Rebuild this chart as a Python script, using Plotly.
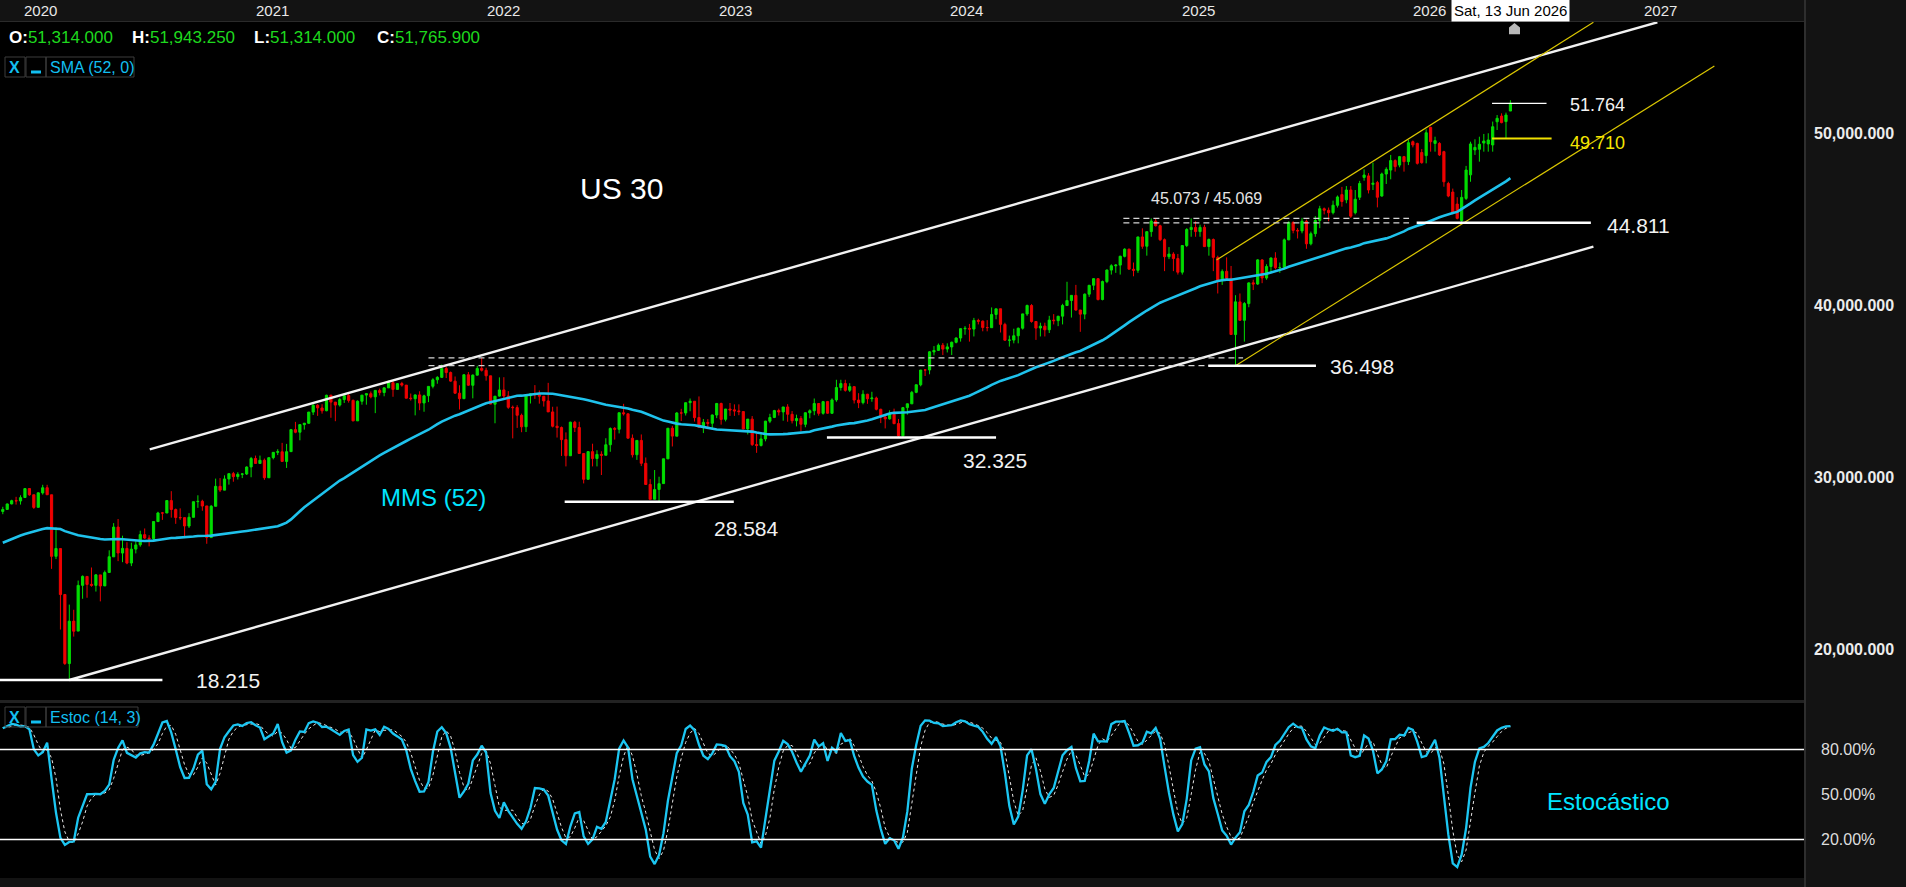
import pandas as pd
import numpy as np
import plotly.graph_objects as go

# ---------------- DATA ----------------
# Warm-up weekly closes (weeks of 2018-12-17 .. 2019-12-02) used only for SMA(52)
pre_close = [22445, 23062, 23433, 23996, 24706, 24737, 25064, 25106, 25883, 26031, 26026, 25450, 25849,
             25502, 25929, 26425, 26412, 26559, 26543, 26505, 25942, 25764, 25586, 24815, 25984, 26090,
             26719, 26600, 26922, 27332, 27154, 27192, 26485, 26287, 25886, 25629, 26403, 26797, 27220,
             26935, 26820, 26573, 26817, 26770, 26958, 27347, 27681, 28005, 27876, 28051, 28015]
# Warm-up highs / lows of the last 17 of those weeks (for the stochastic)
pre_high = [26440, 26280, 26470, 26860, 27300, 27220, 27100, 27050, 26960, 27120, 27000, 27350, 27700,
            28040, 28030, 28175, 28100]
pre_low = [25340, 25570, 25600, 25980, 26800, 26900, 26700, 25740, 26030, 26700, 26700, 26870, 27330,
           27610, 27750, 27870, 27325]

first_week = "2019-12-09"   # weekly bars, one per week

open_ = [
    28020, 28140, 28460, 28650,
    28630, 28830, 29350, 28990, 28260, 29100, 29400, 28990, 25410, 25860, 23190, 19170, 21640, 21060, 23720, 24240, 23780, 23720, 24330, 23690, 24470, 25380, 27110, 25600, 25870, 25020, 25830, 26080, 26670, 26470, 26430, 27430, 27930, 27930, 28650, 28130, 27670, 27660, 27170, 27680, 28590, 28610, 28340, 26500, 28320, 29480, 29260, 29910, 30220, 30050, 30180, 30200,
    30610, 31100, 30810, 31000, 29980, 31150, 31460, 31490, 30930, 31500, 32780, 32630, 33070, 33150, 33800, 34200, 34040, 33880, 34780, 34380, 34210, 34530, 34760, 34480, 33290, 34430, 34790, 34870, 34690, 35060, 34940, 35210, 35510, 35120, 35460, 35370, 34610, 34580, 34800, 34330, 34750, 35300, 35680, 35820, 36330, 36100, 35600, 34900, 34580, 35970, 35360, 35950,
    36340, 36230, 35910, 34260, 34730, 35090, 34740, 34080, 34060, 33610, 32950, 34750, 34860, 34820, 34720, 34450, 33810, 32980, 32900, 32200, 31260, 33210, 32900, 31390, 29890, 31500, 31100, 31340, 31290, 31900, 32850, 32800, 33760, 33700, 32280, 31320, 32150, 30820, 29590, 28730, 29300, 29640, 31080, 32860, 32400, 33750, 33750, 34350, 34430, 33480, 32920, 33200,
    33150, 33630, 34300, 33380, 33980, 33930, 33870, 33830, 32820, 33390, 31910, 31860, 32240, 33270, 33490, 33890, 33810, 34100, 33670, 33300, 33430, 33090, 33760, 33880, 34300, 33730, 34410, 33730, 34510, 35230, 35460, 35070, 35280, 34500, 34350, 34840, 34580, 34620, 33960, 33510, 33410, 33670, 33130, 32420, 34060, 34280, 34950, 35390, 36250, 36250, 37300, 37390,
    37690, 37470, 37590, 37860, 38110, 38650, 38670, 38630, 39130, 39090, 38720, 38710, 39480, 39810, 38900, 37980, 37990, 38240, 38680, 39510, 40000, 39070, 38690, 38800, 38590, 39150, 39120, 39380, 40000, 40290, 40590, 39740, 39500, 40660, 41180, 41560, 40350, 41390, 42060, 42310, 42350, 42860, 43280, 42110, 42050, 43990, 43450, 44300, 44910, 44640, 43830, 42840, 42990,
    42730, 41940, 43490, 44420, 44540, 44300, 44550, 43430, 43840, 42800, 41490, 41990, 41580, 38310, 40210, 39140, 40110, 41320, 41250, 42650, 41600, 42270, 42760, 42200, 42210, 43820, 44830, 44370, 44340, 44900, 43590, 44180, 44950, 45630, 45540, 45400, 45830,
    46450, 46150, 46720, 45400, 46300, 47450, 47540, 47050, 47150, 46370, 47650, 47880, 48430, 48170, 48660, 48370, 49530, 49430, 48900, 48720, 50360, 49430, 49430, 48950, 47100, 46600, 45900, 44940, 46230, 47600, 49050, 49090, 49450, 49400, 49340, 50690, 51020, 50700, 51314.0,
]
high = [
    28290, 28480, 28700, 28870,
    28960, 29370, 29370, 28990, 29130, 29570, 29570, 28990, 27100, 25860, 23190, 22600, 22300, 24000, 24300, 24240, 24760, 24370, 24330, 24580, 25760, 27340, 27580, 26610, 26230, 26200, 26290, 26900, 27030, 26640, 27440, 28000, 27990, 28660, 29200, 28190, 28200, 27660, 27920, 28600, 28960, 28700, 28340, 28390, 29930, 29960, 30120, 30220, 30320, 30300, 30250, 30640,
    31190, 31270, 31270, 31100, 31170, 31470, 31640, 32010, 31950, 32820, 33230, 33070, 33170, 33810, 34260, 34260, 34260, 34810, 34810, 34390, 34630, 34850, 34850, 34530, 34480, 34790, 34890, 35000, 35070, 35170, 35240, 35630, 35630, 35490, 35560, 35370, 34880, 34830, 35010, 34810, 35300, 35770, 35890, 36570, 36440, 36160, 35870, 35360, 36000, 36130, 35990, 36490,
    36950, 36380, 35910, 34610, 35820, 35830, 35020, 34180, 34200, 33710, 34780, 34910, 35370, 35060, 34740, 35500, 34110, 34120, 32960, 32620, 33240, 33290, 33240, 31390, 31500, 31960, 31580, 31520, 32280, 32910, 32930, 33770, 34280, 33700, 32500, 32160, 32500, 31160, 29900, 30430, 30040, 31090, 32860, 33000, 33800, 33990, 34360, 34590, 34430, 34710, 33400, 33390,
    33660, 34330, 34350, 33980, 34330, 34250, 34250, 33830, 33400, 33570, 32550, 32570, 33290, 33700, 33930, 34000, 34100, 34260, 33860, 33650, 33570, 33790, 33960, 34590, 34300, 34450, 34450, 34600, 35680, 35680, 35680, 35480, 35310, 34900, 35070, 34860, 34980, 34700, 34000, 33600, 33900, 34000, 33400, 34100, 34300, 35030, 35400, 36250, 36300, 37350, 37640, 37790,
    37820, 37800, 37900, 38150, 38680, 38800, 38930, 39280, 39230, 39130, 39150, 39890, 39810, 39810, 39000, 38250, 38650, 38720, 39520, 40050, 40080, 39070, 39000, 39000, 39400, 39500, 39400, 40100, 41380, 40600, 41200, 39740, 40700, 41200, 41590, 41600, 41450, 42100, 42400, 42400, 42900, 43330, 43300, 42500, 44000, 44490, 44300, 45070, 45073, 44700, 43900, 43400, 43100,
    43000, 43500, 44500, 45069, 44900, 44700, 44700, 43900, 43900, 42900, 42100, 42800, 42300, 40600, 40700, 40200, 41350, 41500, 42700, 42700, 42400, 42800, 43100, 42500, 43900, 44900, 44900, 44500, 45100, 45000, 44300, 45200, 45800, 45700, 45700, 46100, 46400,
    46900, 46950, 46950, 46720, 47250, 47920, 47700, 48310, 47250, 47730, 48040, 48760, 48500, 48700, 48700, 49630, 49600, 49470, 49100, 50250, 50404, 49820, 49500, 49000, 47200, 46800, 46300, 46720, 48120, 49530, 49670, 49820, 49980, 50020, 50700, 51080, 51180, 51220, 51943.25,
]
low = [
    27860, 28130, 28430, 28420,
    28420, 28800, 28930, 28170, 28260, 29000, 28990, 24680, 25250, 21150, 19090, 18215, 20740, 21060, 22940, 23000, 23640, 23360, 22790, 23680, 24460, 25380, 25130, 25070, 24950, 24840, 25580, 25970, 26420, 25990, 26290, 27430, 27530, 27930, 27660, 27300, 27530, 26540, 27060, 27680, 28230, 28060, 26140, 26500, 28320, 29150, 29260, 29580, 29750, 29880, 29960, 30140,
    30010, 30800, 30780, 29860, 29980, 31050, 31300, 30930, 30550, 31500, 32570, 32160, 32780, 33120, 33630, 33580, 33710, 33850, 33470, 33270, 34120, 34330, 34350, 33270, 33290, 34230, 34230, 34600, 33740, 34770, 34720, 35210, 34690, 35120, 35280, 34600, 34470, 33610, 33910, 33820, 34380, 35180, 35450, 35780, 35780, 35560, 34870, 33950, 34580, 35330, 34600, 35930,
    36160, 35630, 34260, 33150, 34700, 34600, 33990, 32270, 32880, 32630, 32640, 34300, 34570, 34290, 34120, 33810, 32910, 32320, 31250, 30640, 31250, 32640, 31390, 29650, 29890, 30640, 30640, 30140, 31290, 31490, 32200, 32560, 33600, 32260, 31160, 31020, 30660, 29570, 28720, 28730, 28584, 29640, 31080, 31800, 32400, 33280, 33600, 33850, 33250, 32900, 32580, 32810,
    32810, 33450, 33070, 33260, 33580, 33580, 33620, 32800, 32500, 31830, 31430, 31800, 32100, 33160, 33450, 33600, 33300, 33240, 33140, 32970, 32670, 32920, 33440, 33620, 33590, 33650, 33700, 33700, 34400, 35050, 34990, 34970, 34300, 34030, 34250, 34280, 34400, 33900, 33160, 32850, 33360, 33100, 32325, 32330, 33650, 34280, 34900, 35300, 35900, 36000, 37100, 37390,
    37120, 37270, 37120, 37800, 37900, 38300, 37900, 38200, 38900, 38500, 38500, 38700, 39200, 38430, 37950, 37610, 37800, 37800, 38600, 39400, 39000, 38000, 38200, 38200, 38400, 38900, 38800, 38900, 40000, 39300, 39700, 38470, 39200, 40500, 40900, 40300, 40300, 41300, 41800, 41900, 41800, 42800, 42100, 41700, 41900, 43300, 42900, 44000, 44600, 43750, 42000, 42700, 42000,
    41800, 41800, 43400, 44000, 44000, 44000, 43400, 42900, 42000, 40700, 41200, 41500, 38300, 36498, 39100, 37900, 39900, 40900, 41200, 41300, 41500, 41900, 42100, 41900, 42100, 43800, 44200, 43900, 44200, 43300, 43500, 44000, 44500, 45300, 44900, 45300, 45700,
    45750, 45950, 45100, 45300, 46140, 47260, 46520, 46720, 45710, 46330, 47070, 47340, 47790, 48040, 47790, 48170, 49200, 48200, 48250, 48270, 48950, 48950, 48700, 46910, 46300, 45300, 45010, 44811, 46140, 47200, 48760, 48370, 48950, 48950, 48950, 50210, 50600, 49710, 51314.0,
]
close = [
    28135, 28455, 28645, 28634,
    28824, 29348, 28990, 28256, 29103, 29398, 28992, 25409, 25865, 23186, 19174, 21637, 21053, 23719, 24242, 23775, 23724, 24331, 23685, 24465, 25383, 27111, 25605, 25871, 25016, 25827, 26075, 26672, 26470, 26428, 27433, 27931, 27930, 28654, 28133, 27666, 27657, 27174, 27683, 28587, 28606, 28336, 26502, 28323, 29480, 29263, 29910, 30218, 30046, 30179, 30200, 30606,
    31098, 30814, 30997, 29983, 31148, 31458, 31494, 30932, 31496, 32779, 32628, 33072, 33153, 33801, 34200, 34043, 33875, 34778, 34382, 34208, 34529, 34756, 34480, 33290, 34433, 34786, 34870, 34687, 35062, 34935, 35209, 35515, 35120, 35456, 35369, 34608, 34584, 34798, 34326, 34746, 35295, 35677, 35820, 36328, 36100, 35602, 34899, 34580, 35971, 35365, 35951, 36338,
    36231, 35912, 34265, 34725, 35089, 34739, 34079, 34059, 33615, 32945, 34755, 34862, 34818, 34721, 34451, 33811, 32977, 32899, 32197, 31262, 33213, 32900, 31393, 29889, 31501, 31097, 31338, 31288, 31899, 32845, 32803, 33761, 33706, 32283, 31318, 32152, 30822, 29590, 28726, 29297, 29635, 31083, 32861, 32403, 33748, 33746, 34347, 34430, 33477, 32920, 33204, 33147,
    33631, 34303, 33375, 33978, 33926, 33870, 33827, 32817, 33391, 31910, 31862, 32238, 33274, 33485, 33886, 33809, 34098, 33674, 33300, 33427, 33093, 33762, 33877, 34299, 33727, 34408, 33734, 34509, 35228, 35459, 35066, 35281, 34501, 34346, 34838, 34577, 34618, 33964, 33508, 33407, 33670, 33127, 32418, 34061, 34283, 34947, 35390, 36245, 36248, 37306, 37385, 37690,
    37466, 37593, 37863, 38109, 38654, 38671, 38628, 39131, 39087, 38723, 38715, 39475, 39807, 38904, 37983, 37986, 38240, 38676, 39513, 40004, 39070, 38686, 38799, 38589, 39150, 39119, 39376, 40001, 40288, 40590, 39737, 39498, 40660, 41175, 41563, 40345, 41394, 42063, 42313, 42352, 42864, 43276, 42114, 42052, 43989, 43445, 44297, 44911, 44642, 43828, 42840, 42992, 42732,
    41938, 43488, 44424, 44545, 44303, 44546, 43428, 43841, 42802, 41488, 41985, 41584, 38315, 40213, 39142, 40114, 41317, 41249, 42655, 41603, 42270, 42763, 42198, 42207, 43819, 44829, 44372, 44342, 44902, 43589, 44176, 44946, 45631, 45545, 45401, 45834, 46315,
    46050, 46720, 45200, 46180, 47100, 47590, 46720, 47110, 46300, 47650, 47920, 48430, 48080, 48660, 48370, 49470, 49340, 48270, 48310, 50050, 49530, 49590, 48760, 47200, 46370, 45400, 45070, 46290, 47880, 49400, 49200, 49380, 49570, 49630, 50400, 50890, 50640, 51080, 51765.9,
]

# Key levels marked on the chart (price, from, to)
support_levels = [18215, 28584, 32325, 36498, 44811]
support_from = ["2019-12-01", "2022-05-14", "2023-07-02", "2025-02-23", "2026-01-18"]
support_to = ["2020-08-17", "2023-02-05", "2024-03-25", "2025-08-12", "2026-10-20"]
support_labels = ["18.215", "28.584", "32.325", "36.498", "44.811"]

last_close_level = 51764
last_low_level = 49710
levels_from = "2026-05-17"
last_close_to = "2026-08-11"
last_low_to = "2026-08-19"

dashed_levels = [36952, 36498, 45073, 44811]
dashed_from = ["2021-10-11", "2021-10-11", "2024-10-12", "2024-10-12"]
dashed_to = ["2025-04-19", "2025-05-05", "2026-01-06", "2026-01-06"]

# trend channels: (date0, price0, date1, price1)
white_channel = [("2020-07-28", 31636, "2027-02-02", 56475),
                 ("2020-03-23", 18215, "2026-10-24", 43421)]
yellow_channel = [("2025-03-08", 42648, "2026-10-24", 56475),
                  ("2025-04-07", 36498, "2027-05-03", 53933)]

price_ticks = [20000, 30000, 40000, 50000]
stoch_ticks = [20, 50, 80]
stoch_bands = [80, 20]
years = list(range(2020, 2028))
cursor_date = "2026-06-13"

# ---------------- INDICATORS ----------------
n = len(close)
assert len(open_) == n and len(high) == n and len(low) == n, (len(open_), len(high), len(low), n)
dates = pd.date_range(first_week, periods=n, freq="7D")

closes_all = pd.Series(pre_close + close, dtype=float)
sma52 = closes_all.rolling(52).mean().iloc[len(pre_close):].to_numpy()

nw = len(pre_high)
hh = pd.Series(pre_high + high, dtype=float).rolling(14).max()
ll = pd.Series(pre_low + low, dtype=float).rolling(14).min()
cc = pd.Series(pre_close[-nw:] + close, dtype=float)
raw_k = 100 * (cc - ll) / (hh - ll)
k_s = raw_k.rolling(3).mean()
d_s = k_s.rolling(3).mean()
k_line = k_s.iloc[nw:].to_numpy()
d_line = d_s.iloc[nw:].to_numpy()

# ---------------- LAYOUT GEOMETRY ----------------
W, H = 1906, 887
ML, MR, MT, MB = 0, 102, 22, 9
PW, PH = W - ML - MR, H - MT - MB
FONT = "Liberation Sans, Arial, sans-serif"


def fx(px):
    return px / PW


def fy(py):
    return 1 - (py - MT) / PH


day_px = 0.63346
x_start = pd.Timestamp("2019-12-04 14:24")
x_end = x_start + pd.Timedelta(days=PW / day_px)
pt_px = 0.01719
price_at = lambda py: 18215 + (680 - py) / pt_px
y_range = [price_at(700), price_at(22)]
stoch_range = [-5.67, 111]

GREEN = "#00dd00"
RED = "#ee0000"
SMA_C = "#1fc2ec"
K_C = "#1cc6f2"
CYAN_T = "#00e5ff"
LEG_C = "#12bff0"

fig = go.Figure()
fig.add_trace(go.Candlestick(
    x=dates, open=open_, high=high, low=low, close=close,
    increasing=dict(line=dict(color=GREEN, width=1), fillcolor=GREEN),
    decreasing=dict(line=dict(color=RED, width=1), fillcolor=RED),
    whiskerwidth=0, hoverinfo="skip", showlegend=False, xaxis="x", yaxis="y"))
fig.add_trace(go.Scatter(x=dates, y=sma52, mode="lines", line=dict(color=SMA_C, width=2.6),
                         hoverinfo="skip", showlegend=False, xaxis="x", yaxis="y"))
fig.add_trace(go.Scatter(x=dates, y=d_line, mode="lines", line=dict(color="#e6e6e6", width=1, dash="dot"),
                         hoverinfo="skip", showlegend=False, xaxis="x2", yaxis="y2"))
fig.add_trace(go.Scatter(x=dates, y=k_line, mode="lines", line=dict(color=K_C, width=2.3),
                         hoverinfo="skip", showlegend=False, xaxis="x2", yaxis="y2"))

shapes = []
# panel decorations
shapes.append(dict(type="rect", xref="paper", yref="paper", x0=0, x1=1, y0=fy(703), y1=fy(700),
                   fillcolor="#222222", line=dict(width=0), layer="below"))
shapes.append(dict(type="line", xref="paper", yref="paper", x0=fx(1805), x1=fx(1805), y0=fy(887), y1=fy(0),
                   line=dict(color="#2e2e2e", width=2)))
shapes.append(dict(type="line", xref="paper", yref="paper", x0=0, x1=1, y0=fy(21.5), y1=fy(21.5),
                   line=dict(color="#2a2a2a", width=1)))

for d0, p0, d1, p1 in white_channel:
    shapes.append(dict(type="line", xref="x", yref="y", x0=d0, y0=p0, x1=d1, y1=p1,
                       line=dict(color="#f2f2f2", width=2.4)))
for d0, p0, d1, p1 in yellow_channel:
    shapes.append(dict(type="line", xref="x", yref="y", x0=d0, y0=p0, x1=d1, y1=p1,
                       line=dict(color="#dcc800", width=1.2)))
for lv, a, b in zip(dashed_levels, dashed_from, dashed_to):
    shapes.append(dict(type="line", xref="x", yref="y", x0=a, x1=b, y0=lv, y1=lv,
                       line=dict(color="#d4d4d4", width=1.3, dash="6px,4px")))
for lv, a, b in zip(support_levels, support_from, support_to):
    shapes.append(dict(type="line", xref="x", yref="y", x0=a, x1=b, y0=lv, y1=lv,
                       line=dict(color="#ffffff", width=2.6)))
shapes.append(dict(type="line", xref="x", yref="y", x0=levels_from, x1=last_close_to,
                   y0=last_close_level, y1=last_close_level, line=dict(color="#ffffff", width=1.3)))
shapes.append(dict(type="line", xref="x", yref="y", x0=levels_from, x1=last_low_to,
                   y0=last_low_level, y1=last_low_level, line=dict(color="#f0e000", width=2)))
for b in stoch_bands:
    shapes.append(dict(type="line", xref="paper", yref="y2", x0=0, x1=1, y0=b, y1=b,
                       line=dict(color="#ffffff", width=1.5)))

# indicator legend boxes
for ytop in (57, 707):
    for x0, x1 in ((5, 25), (26, 46), (46, 134 if ytop == 57 else 138)):
        shapes.append(dict(type="rect", xref="paper", yref="paper", x0=fx(x0), x1=fx(x1),
                           y0=fy(ytop + 20), y1=fy(ytop), line=dict(color="#3c3c3c", width=1)))
    shapes.append(dict(type="rect", xref="paper", yref="paper", x0=fx(31), x1=fx(41),
                       y0=fy(ytop + 16.5), y1=fy(ytop + 13.5), fillcolor=LEG_C, line=dict(width=0)))

# cursor marker (small house shape under the date box)
mk = [(1509, 34.3), (1520, 34.3), (1520, 27.5), (1514.5, 23), (1509, 27.5)]
path = "M " + " L ".join(f"{fx(a):.6f},{fy(b):.6f}" for a, b in mk) + " Z"
shapes.append(dict(type="path", xref="paper", yref="paper", path=path,
                   fillcolor="#b8b8b8", line=dict(width=0)))

ann = []
top_y = fy(10.5)
for yr in years:
    ann.append(dict(x=f"{yr}-01-01", xref="x", y=top_y, yref="paper", text=str(yr), showarrow=False,
                    xanchor="left", yanchor="middle", xshift=5, font=dict(family=FONT, size=15, color="#e8e8e8")))
ann.append(dict(x=cursor_date, xref="x", y=top_y, yref="paper",
                text=pd.Timestamp(cursor_date).strftime("%a, %d %b %Y"), showarrow=False,
                xanchor="center", yanchor="middle", xshift=1, bgcolor="#ffffff", borderpad=2,
                font=dict(family=FONT, size=15, color="#000000")))

ohlc = [("O", open_[-1], 6.7), ("H", high[-1], 129.5), ("L", low[-1], 252), ("C", close[-1], 375)]
for lab, val, px in ohlc:
    ann.append(dict(x=fx(px), y=fy(37), xref="paper", yref="paper", showarrow=False,
                    xanchor="left", yanchor="middle",
                    text=f"<b>{lab}:</b><span style='color:#1ed81e'>{val:,.3f}</span>",
                    font=dict(family=FONT, size=17, color="#ffffff")))

for ytop, txt in ((57, "SMA (52, 0)"), (707, "Estoc (14, 3)")):
    ann.append(dict(x=fx(15), y=fy(ytop + 10), xref="paper", yref="paper", showarrow=False,
                    xanchor="center", yanchor="middle", text="<b>X</b>",
                    font=dict(family=FONT, size=16, color=LEG_C)))
    ann.append(dict(x=fx(47.5), y=fy(ytop + 10), xref="paper", yref="paper", showarrow=False,
                    xanchor="left", yanchor="middle", text=txt,
                    font=dict(family=FONT, size=16, color=LEG_C)))


def label(px, py, text, size, color, anchor="center"):
    ann.append(dict(x=fx(px), y=fy(py), xref="paper", yref="paper", showarrow=False, text=text,
                    xanchor=anchor, yanchor="middle", font=dict(family=FONT, size=size, color=color)))


label(621, 189, "US 30", 30, "#ffffff")
label(433, 497, "MMS (52)", 24, CYAN_T)
label_pos = [(228, 680), (746, 528), (995, 460), (1362, 366.5), (1638, 225.8)]
for (px, py), t in zip(label_pos, support_labels):
    label(px, py, t, 21, "#f2f2f2")
label(1597, 105, f"{last_close_level / 1000:.3f}", 18, "#f2f2f2")
label(1597, 142.7, f"{last_low_level / 1000:.3f}", 18, "#f5e600")
label(1206.4, 199, f"{dashed_levels[2] / 1000:.3f} / 45.069", 16, "#e4e4e4")
label(1608, 801, "Estocástico", 24, CYAN_T)

axis_common = dict(showgrid=False, zeroline=False, showline=False)
fig.update_layout(
    width=W, height=H, margin=dict(l=ML, r=MR, t=MT, b=MB, pad=0),
    paper_bgcolor="#131313", plot_bgcolor="#000000", hovermode=False, showlegend=False,
    xaxis=dict(domain=[0, 1], range=[x_start, x_end], type="date", showticklabels=False,
               rangeslider=dict(visible=False), anchor="y", **axis_common),
    xaxis2=dict(domain=[0, 1], range=[x_start, x_end], type="date", showticklabels=False,
                matches="x", anchor="y2", **axis_common),
    yaxis=dict(domain=[fy(700), 1], range=y_range, side="right", anchor="x",
               tickvals=price_ticks, ticktext=[f"<b>{v:,.3f}</b>" for v in price_ticks],
               ticks="", ticklabelstandoff=9, tickfont=dict(family=FONT, size=16, color="#ececec"),
               **axis_common),
    yaxis2=dict(domain=[0, fy(703)], range=stoch_range, side="right", anchor="x2",
                tickvals=stoch_ticks, ticktext=[f"{v:.2f}%" for v in stoch_ticks],
                ticks="", ticklabelstandoff=16, tickfont=dict(family=FONT, size=16, color="#dedede"),
                **axis_common),
    shapes=shapes, annotations=ann,
)

fig.write_html("out.html")
